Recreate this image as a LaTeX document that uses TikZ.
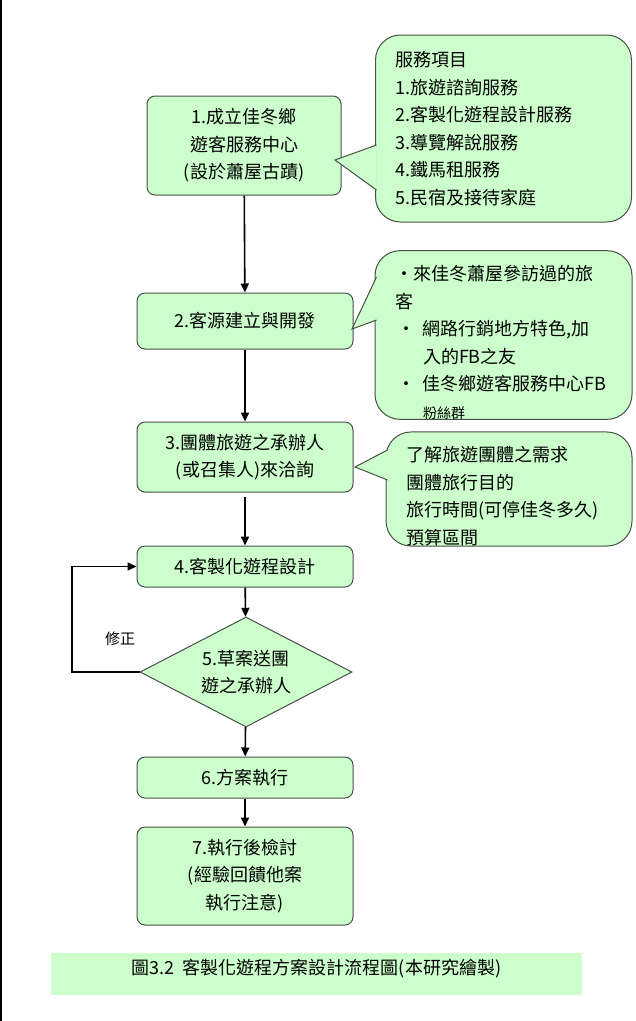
\documentclass[tikz,border=0pt]{standalone}
\usepackage{fontspec}
\setmainfont{Noto Sans CJK TC}
\usetikzlibrary{arrows.meta,shapes.geometric}
\definecolor{boxgreen}{RGB}{204,255,204}
\definecolor{edgegray}{RGB}{70,80,70}
\begin{document}
\begin{tikzpicture}[x=1pt,y=-1pt,>={Triangle[length=9pt,width=8pt]},
 every node/.style={font=\fontsize{18}{27.5}\selectfont},
 box/.style={draw=edgegray,fill=boxgreen,rounded corners=8pt,line width=1pt,minimum width=216pt,inner sep=0pt,align=center},
 decide/.style={diamond,aspect=2,draw=edgegray,fill=boxgreen,line width=1pt,minimum width=212pt,minimum height=110pt,inner sep=0pt,align=center},
 note/.style={draw=edgegray,fill=boxgreen,rounded corners=25pt,line width=1pt,inner xsep=20pt,inner ysep=0pt,align=left},
 flow/.style={->,line width=1.6pt}]
 \useasboundingbox (0,0) rectangle (636,1021);
 \draw[line width=2pt] (1,0) -- (1,1021);

 % main steps
 \node[box,minimum width=194pt,minimum height=99pt] (b1) at (244,145.5) {1.成立佳冬鄉\\遊客服務中心\\(設於蕭屋古蹟)};
 \node[box,minimum height=56pt] (b2) at (245,321) {2.客源建立與開發};
 \node[box,minimum height=70pt] (b3) at (245,457) {3.團體旅遊之承辦人\\(或召集人)來洽詢};
 \node[box,minimum height=41pt] (b4) at (245,566.5) {4.客製化遊程設計};
 \node[decide] (d5) at (246,672) {5.草案送團\\遊之承辦人};
 \node[box,minimum height=41pt] (b6) at (245,777.5) {6.方案執行};
 \node[box,minimum height=98pt] (b7) at (245,876) {7.執行後檢討\\(經驗回饋他案\\執行注意)};

 % notes
 \node[note,text width=216pt,minimum height=187pt] (c1) at (503.5,128.5)
  {服務項目\\1.旅遊諮詢服務\\2.客製化遊程設計服務\\3.導覽解說服務\\4.鐵馬租服務\\5.民宿及接待家庭};
 \node[note,text width=217pt,minimum height=166pt] (c2) at (503.5,335)
  {\rule{0pt}{30pt}\mbox{・來佳冬蕭屋參訪過的旅}\\客\\
   \mbox{\hspace{2pt}・\hspace{8pt}網路行銷地方特色,加}\\
   \mbox{\hspace{28pt}入的FB之友}\\
   \mbox{\hspace{2pt}・\hspace{8pt}佳冬鄉遊客服務中心FB}\\
   \mbox{\hspace{28pt}\fontsize{14}{20}\selectfont 粉絲群}};
 \node[note,text width=206pt,minimum height=112pt] (c3) at (509,489)
  {\rule{0pt}{30pt}了解旅遊團體之需求\\團體旅行目的\\旅行時間(可停佳冬多久)\\預算區間};

 % note pointers
 \coordinate (p1a) at (376.5,145); \coordinate (p1t) at (335,160); \coordinate (p1b) at (376.5,190);
 \coordinate (p2a) at (376.5,277); \coordinate (p2t) at (352,329); \coordinate (p2b) at (376.5,320);
 \coordinate (p3a) at (387.5,450); \coordinate (p3t) at (355,467); \coordinate (p3b) at (387.5,480);
 \foreach \p in {p1,p2,p3} {
  \fill[boxgreen] (\p a) -- (\p t) -- (\p b) -- cycle;
  \draw[edgegray,line width=1pt,line join=miter] (\p a) -- (\p t) -- (\p b);
 }

 % arrows
 \foreach \from/\to in {b1/b2,b2/b3,b4/d5,d5/b6,b6/b7}
  \draw[flow] (\from) -- (\to);
 \coordinate (b3out) at (245,497);
 \draw[flow] (b3out) -- (b4.north);
 \coordinate (loop) at (72,672);
 \draw[flow] (d5.west) -- (loop) |- (b4.west);
 \node[font=\fontsize{15}{18}\selectfont] (fixlbl) at (120,639) {修正};

 % caption
 \node[fill=boxgreen,minimum width=531pt,inner ysep=0pt,text height=21pt,text depth=21pt] (cap) at (316.5,974)
  {圖3.2\ \ 客製化遊程方案設計流程圖(本研究繪製)};
\end{tikzpicture}
\end{document}
